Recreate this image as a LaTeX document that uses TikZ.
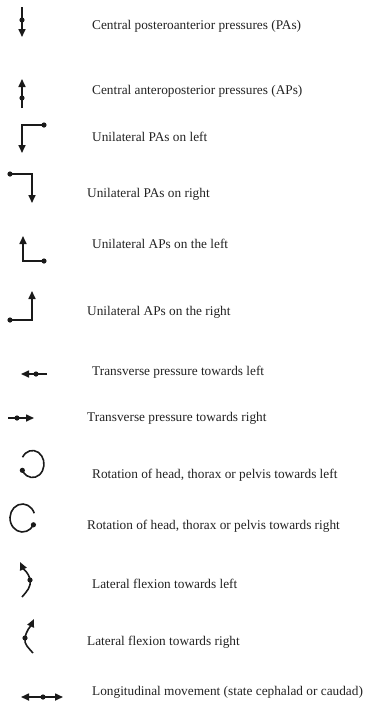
\documentclass[tikz,border=0pt]{standalone}
\usepackage{fontspec}
\setmainfont{Liberation Serif}
\usetikzlibrary{arrows.meta}
\definecolor{SymDark}{HTML}{1A1A1A}
\definecolor{TxtDark}{HTML}{222222}

\begin{document}
\begin{tikzpicture}[
    x=1pt, y=1pt,
    sym/.style={line width=1.6pt, draw=SymDark, line join=miter},
    arr/.style={sym, -{Triangle[length=8pt,width=7pt]}},
    both/.style={sym, {Triangle[length=8pt,width=7pt]}-{Triangle[length=8pt,width=7pt]}},
    lbl/.style={anchor=mid west, inner sep=0pt, text=TxtDark, font=\fontsize{13.3}{16}\selectfont}
 ]
\useasboundingbox (0,0) rectangle (366,-702);
\def\dotR{2.6pt}

    \foreach \i/\x/\y/\t in {
        1/92/27/{Central posteroanterior pressures (PAs)},
        2/92/92/{Central anteroposterior pressures (APs)},
        3/92/139/{Unilateral PAs on left},
        4/87/195/{Unilateral PAs on right},
        5/92/246/{Unilateral APs on the left},
        6/87/313/{Unilateral APs on the right},
        7/92/373/{Transverse pressure towards left},
        8/87/419/{Transverse pressure towards right},
        9/92/476/{Rotation of head, thorax or pelvis towards left},
        10/87/527/{Rotation of head, thorax or pelvis towards right},
        11/92/586/{Lateral flexion towards left},
        12/87/643/{Lateral flexion towards right},
        13/92/693/{Longitudinal movement (state cephalad or caudad)}} {
        \node[lbl] (lbl\i) at (\x,-\y) {\t};
    }

% central PAs / APs
\draw[arr] (22,-7) -- (22,-37);
\fill[SymDark] (22,-20) circle (\dotR);
\draw[arr] (22,-108) -- (22,-79);
\fill[SymDark] (22,-98) circle (\dotR);

% unilateral
\draw[arr] (44,-125) -- (22,-125) -- (22,-153);
\fill[SymDark] (44,-125) circle (\dotR);
\draw[arr] (10,-174) -- (32,-174) -- (32,-203);
\fill[SymDark] (10,-174) circle (\dotR);
\draw[arr] (44,-261) -- (23,-261) -- (23,-236);
\fill[SymDark] (44,-261) circle (\dotR);
\draw[arr] (10,-320) -- (32,-320) -- (32,-291);
\fill[SymDark] (10,-320) circle (\dotR);

% transverse
\draw[arr] (47,-374) -- (21,-374);
\fill[SymDark] (36,-374) circle (\dotR);
\draw[arr] (8,-418) -- (34,-418);
\fill[SymDark] (17,-418) circle (\dotR);

% rotation
\draw[sym] (32.5,-464) ++(150:11.5 and 13.5) arc[start angle=150, end angle=-152, x radius=11.5, y radius=13.5] coordinate (rotL);
\fill[SymDark] (rotL) circle (\dotR);
\draw[sym] (22.5,-518) ++(20:12.5 and 14) arc[start angle=20, end angle=331, x radius=12.5, y radius=14] coordinate (rotR);
\fill[SymDark] (rotR) circle (\dotR);

% lateral flexion
\draw[arr] (22,-597) to[out=50,in=-80] (30,-580) to[out=100,in=-65] (20,-562);
\fill[SymDark] (30,-580) circle (\dotR);
\draw[arr] (33,-653) to[out=130,in=-100] (25,-638) to[out=80,in=-115] (34,-619);
\fill[SymDark] (25,-638) circle (\dotR);

% longitudinal
\draw[both] (21,-697) -- (63,-697);
\fill[SymDark] (43,-697) circle (\dotR);

\end{tikzpicture}
\end{document}
